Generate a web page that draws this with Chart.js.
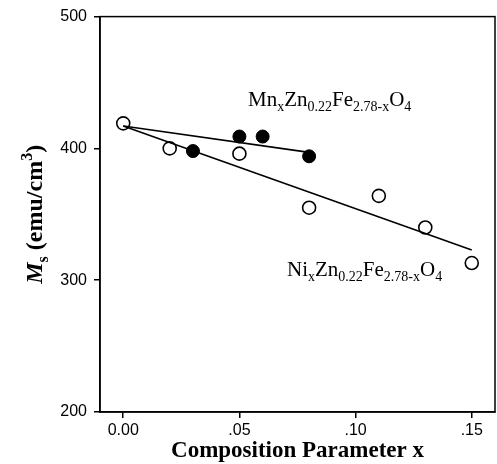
<!DOCTYPE html>
<html>
<head>
<meta charset="utf-8">
<script src="https://cdn.jsdelivr.net/npm/chart.js@4.4.1/dist/chart.umd.min.js"></script>
<style>
html,body{margin:0;padding:0;background:#fff;}
#wrap{width:497px;height:464px;}
</style>
</head>
<body>
<div id="wrap"><canvas id="c" width="497" height="464"></canvas></div>
<script>
// ---- data ----
const niX = [0.00, 0.02, 0.05, 0.08, 0.11, 0.13, 0.15];
const niY = [419, 400, 396, 355, 364, 340, 313];
const mnX = [0.03, 0.05, 0.06, 0.08];
const mnY = [398, 409, 409, 394];
const niFitX = [0.00, 0.15];
const niFitY = [417, 323];
const mnFitX = [0.00, 0.08];
const mnFitY = [417, 397];
const xTicks = [0.00, 0.05, 0.10, 0.15];
const xTickLabels = ['0.00', '.05', '.10', '.15'];
const yTicks = [200, 300, 400, 500];

const pts = (xs, ys) => xs.map((x, i) => ({x: x, y: ys[i]}));

// rich text: parts [text, mode] mode: 0 normal, 1 sub, 2 sup, 3 italic
const SUBR = 0.68;
function partFont(p, size, weight, family) {
  const mode = p[1] || 0;
  const s = (mode === 1 || mode === 2) ? Math.round(size * SUBR) : size;
  const style = mode === 3 ? 'italic ' : '';
  return style + weight + ' ' + s + 'px ' + family;
}
function drawRich(ctx, parts, x, y, size, weight, family) {
  let cx = x;
  parts.forEach(p => {
    const mode = p[1] || 0;
    ctx.font = partFont(p, size, weight, family);
    let dy = 0;
    if (mode === 1) dy = size * 0.24;
    if (mode === 2) dy = -size * 0.42;
    ctx.fillText(p[0], cx, y + dy);
    cx += ctx.measureText(p[0]).width;
  });
  return cx - x;
}
function measureRich(ctx, parts, size, weight, family) {
  let w = 0;
  parts.forEach(p => {
    ctx.font = partFont(p, size, weight, family);
    w += ctx.measureText(p[0]).width;
  });
  return w;
}

const SERIF = '"Liberation Serif", "Times New Roman", serif';

const textPlugin = {
  id: 'texts',
  afterDraw(chart) {
    const ctx = chart.ctx;
    const a = chart.chartArea;
    ctx.save();
    // frame
    ctx.strokeStyle = '#000';
    ctx.lineWidth = 1.5;
    ctx.strokeRect(a.left, a.top, a.right - a.left, a.bottom - a.top);
    ctx.fillStyle = '#000';
    ctx.textBaseline = 'alphabetic';
    ctx.textAlign = 'left';
    // annotations
    const mn = [['Mn'], ['x', 1], ['Zn'], ['0.22', 1], ['Fe'], ['2.78-x', 1], ['O'], ['4', 1]];
    const ni = [['Ni'], ['x', 1], ['Zn'], ['0.22', 1], ['Fe'], ['2.78-x', 1], ['O'], ['4', 1]];
    drawRich(ctx, mn, 248, 106, 21, 'normal', SERIF);
    drawRich(ctx, ni, 287, 276, 21, 'normal', SERIF);
    // x title
    const xt = [['Composition Parameter x']];
    const wx = measureRich(ctx, xt, 23, 'bold', SERIF);
    drawRich(ctx, xt, (a.left + a.right) / 2 - wx / 2, 457, 23, 'bold', SERIF);
    // y title
    const yt = [['M', 3], ['s', 1], [' (emu/cm'], ['3', 2], [')']];
    const wy = measureRich(ctx, yt, 24, 'bold', SERIF);
    ctx.translate(42, (a.top + a.bottom) / 2);
    ctx.rotate(-Math.PI / 2);
    drawRich(ctx, yt, -wy / 2, 0, 24, 'bold', SERIF);
    ctx.restore();
  }
};

new Chart(document.getElementById('c'), {
  type: 'scatter',
  data: {
    datasets: [
      {
        label: 'Ni fit', data: pts(niFitX, niFitY), showLine: true,
        borderColor: '#000', borderWidth: 1.6, pointRadius: 0, fill: false
      },
      {
        label: 'Mn fit', data: pts(mnFitX, mnFitY), showLine: true,
        borderColor: '#000', borderWidth: 1.6, pointRadius: 0, fill: false
      },
      {
        label: 'NixZn0.22Fe2.78-xO4', data: pts(niX, niY),
        pointRadius: 6.5, pointBackgroundColor: '#fff', pointBorderColor: '#000',
        pointBorderWidth: 1.6, showLine: false
      },
      {
        label: 'MnxZn0.22Fe2.78-xO4', data: pts(mnX, mnY),
        pointRadius: 6.5, pointBackgroundColor: '#000', pointBorderColor: '#000',
        pointBorderWidth: 1, showLine: false
      }
    ]
  },
  options: {
    responsive: false,
    animation: false,
    layout: {autoPadding: false, padding: {top: 15, right: 2, left: 0, bottom: 0}},
    plugins: {legend: {display: false}, tooltip: {enabled: false}},
    scales: {
      x: {
        type: 'linear', min: -0.01, max: 0.16,
        afterFit(s) { s.height = 52; },
        afterBuildTicks(s) { s.ticks = xTicks.map(v => ({value: v})); },
        ticks: {
          color: '#000', padding: 3,
          font: {family: '"Liberation Sans", Arial, sans-serif', size: 16},
          callback(v) { const i = xTicks.indexOf(v); return i >= 0 ? xTickLabels[i] : ''; }
        },
        grid: {display: true, drawOnChartArea: false, drawTicks: true, tickLength: 6, color: '#000', lineWidth: 1.5},
        border: {display: true, color: '#000', width: 1.5}
      },
      y: {
        type: 'linear', min: 200, max: 500,
        afterFit(s) { s.width = 100; },
        afterBuildTicks(s) { s.ticks = yTicks.map(v => ({value: v})); },
        ticks: {
          color: '#000', padding: 7,
          font: {family: '"Liberation Sans", Arial, sans-serif', size: 16}
        },
        grid: {display: true, drawOnChartArea: false, drawTicks: true, tickLength: 6, color: '#000', lineWidth: 1.5},
        border: {display: true, color: '#000', width: 1.5}
      }
    }
  },
  plugins: [textPlugin]
});
</script>
</body>
</html>
